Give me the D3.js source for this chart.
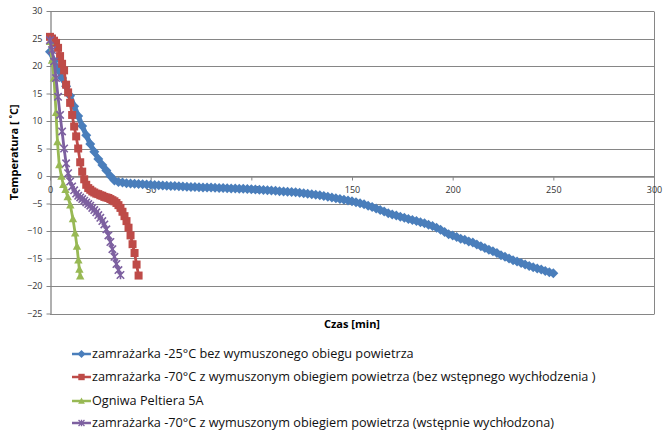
<!DOCTYPE html>
<html>
<head>
<meta charset="utf-8">
<script src="https://cdn.jsdelivr.net/npm/d3@7"></script>
<style>
    body { margin: 0; background: #fff; }
    svg { font-family: "Open Sans", sans-serif; }
</style>
</head>
<body>
<svg id="plot-svg" width="668" height="431"></svg>
<script>
const X_TICKS = [0, 50, 100, 150, 200, 250, 300];
const Y_TICKS = [-25, -20, -15, -10, -5, 0, 5, 10, 15, 20, 25, 30];

const SERIES_NAMES = [
    "zamrażarka -25°C bez wymuszonego obiegu powietrza",
    "zamrażarka -70°C z wymuszonym obiegiem powietrza (bez wstępnego wychłodzenia )",
    "Ogniwa Peltiera 5A",
    "zamrażarka -70°C z wymuszonym obiegiem powietrza (wstępnie wychłodzona)"
];

// freezer -25, read every 2 min
const blueTime = d3.range(0, 251, 2);
const blueTemp = [
    22.6, 20.9, 19.3, 17.8, 16.3, 14.6, 12.7, 10.9, 9.1, 7.4,
    5.8, 4.4, 3.1, 2.0, 1.0, 0.0, -0.8, -1.1, -1.2, -1.3,
    -1.35, -1.4, -1.45, -1.5, -1.55, -1.6, -1.65, -1.7, -1.72, -1.76,
    -1.8, -1.84, -1.88, -1.92, -1.96, -2.0, -2.02, -2.04, -2.07, -2.09,
    -2.1, -2.13, -2.16, -2.19, -2.22, -2.25, -2.28, -2.31, -2.34, -2.37,
    -2.4, -2.45, -2.5, -2.55, -2.6, -2.65, -2.7, -2.75, -2.8, -2.85,
    -2.9, -2.97, -3.05, -3.13, -3.21, -3.3, -3.41, -3.52, -3.64, -3.76,
    -3.9, -4.03, -4.17, -4.31, -4.46, -4.6, -4.78, -4.95, -5.15, -5.4,
    -5.65, -5.9, -6.2, -6.45, -6.75, -7.0, -7.2, -7.4, -7.6, -7.8,
    -8.0, -8.2, -8.4, -8.6, -8.85, -9.1, -9.4, -9.75, -10.2, -10.6,
    -10.8, -11.1, -11.4, -11.6, -11.9, -12.1, -12.45, -12.75, -13.1, -13.4,
    -13.7, -14.0, -14.4, -14.7, -15.0, -15.3, -15.55, -15.8, -16.1, -16.35,
    -16.6, -16.8, -17.0, -17.25, -17.5, -17.7
];

// freezer -70, not pre-cooled, every minute
const redTime = d3.range(0, 45, 1);
const redTemp = [
    25.3, 25.0, 24.6, 24.2, 23.3, 21.8, 20.4, 19.2, 16.6, 15.2,
    13.3, 11.1, 9.0, 7.2, 5.0, 2.5, 0.8, -0.6, -1.6, -2.2,
    -2.5, -2.8, -3.0, -3.2, -3.3, -3.5, -3.6, -3.8, -3.9, -4.0,
    -4.2, -4.4, -4.6, -4.9, -5.3, -5.8, -6.5, -7.3, -8.2, -9.4,
    -10.8, -12.4, -14.0, -16.1, -18.1
];

// Peltier cells
const greenTime = [0, 1, 2, 3, 3.7, 4.6, 5.7, 6.6, 7.7, 8.8, 10.1, 11.4, 12.5, 13.4, 14.1, 14.6, 15];
const greenTemp = [24.4, 21.0, 17.8, 11.5, 6.2, 2.0, -0.1, -1.6, -2.5, -3.8, -5.3, -7.8, -10.4, -12.8, -15.3, -17.0, -18.2];

// freezer -70, pre-cooled, every minute
const purpleTime = d3.range(0, 36, 1);
const purpleTemp = [
    24.7, 22.9, 20.8, 17.8, 14.4, 11.1, 8.1, 5.0, 2.3, 0.5,
    -1.0, -1.9, -2.6, -3.2, -3.6, -3.9, -4.2, -4.5, -4.8, -5.1,
    -5.4, -5.8, -6.2, -6.6, -7.1, -7.6, -8.2, -8.8, -9.7, -10.8,
    -12.0, -13.3, -14.7, -16.0, -17.1, -18.0
];

const COLORS = ["#4a7ebb", "#be4b48", "#98b954", "#7d60a0"];
const GRID = "#868686";

function zip(t, v) {
    return t.map((d, i) => ({x: d, y: v[i]}));
}

// marker shapes, centred on 0,0
const markers = [
    (g, c) => g.append("path").attr("d", "M0,-5L5,0L0,5L-5,0Z").style("fill", c),
    (g, c) => g.append("rect").attr("x", -4).attr("y", -4).attr("width", 8).attr("height", 8).style("fill", c),
    (g, c) => g.append("path").attr("d", "M0,-4.4L4.2,3.3L-4.2,3.3Z").style("fill", c),
    (g, c) => g.append("path").attr("d", "M-3.7,-3.7L3.7,3.7M-3.7,3.7L3.7,-3.7M0,-4.2L0,4.2").style("fill", "none")
        .style("stroke", c).style("stroke-width", 1.6)
];

const margin = {left: 50, top: 11},
    width = 604,
    height = 302.5;

const svg = d3.select("#plot-svg")
    .append("g")
    .attr("transform", "translate(" + margin.left + "," + margin.top + ")");

const xScale = d3.scaleLinear().domain([0, 300]).range([0, width]);
const yScale = d3.scaleLinear().domain([-25, 30]).range([height, 0]);

// horizontal gridlines
svg.append("g")
    .selectAll("line")
    .data(Y_TICKS)
    .enter()
    .append("line")
    .attr("x1", 0)
    .attr("x2", width)
    .attr("y1", d => Math.round(yScale(d)) + 0.5)
    .attr("y2", d => Math.round(yScale(d)) + 0.5)
    .style("stroke", GRID)
    .style("stroke-width", 1);

// right border of plot area
svg.append("line")
    .attr("x1", width + 0.5).attr("x2", width + 0.5)
    .attr("y1", Math.round(yScale(30)) + 0.5).attr("y2", Math.round(yScale(-25)) + 0.5)
    .style("stroke", GRID);

// y axis
const yAxis = d3.axisLeft(yScale)
    .tickValues(Y_TICKS)
    .tickSize(4)
    .tickSizeOuter(0)
    .tickPadding(4);
const yg = svg.append("g").attr("transform", "translate(0.5,0)").call(yAxis);

// x axis crosses at 0
const xAxis = d3.axisBottom(xScale)
    .tickValues(X_TICKS)
    .tickSize(4)
    .tickSizeOuter(0)
    .tickPadding(6);
const xg = svg.append("g")
    .attr("transform", "translate(0," + (Math.round(yScale(0)) + 0.5) + ")")
    .call(xAxis);

[yg, xg].forEach(g => {
    g.selectAll("path.domain").style("stroke", GRID).style("stroke-width", 1.3);
    g.selectAll(".tick line").style("stroke", GRID);
    g.selectAll(".tick text")
        .style("font-family", "'Open Sans', sans-serif")
        .style("font-size", "9px")
        .style("fill", "#333");
});

// series
const allSeries = [
    zip(blueTime, blueTemp),
    zip(redTime, redTemp),
    zip(greenTime, greenTemp),
    zip(purpleTime, purpleTemp)
];

const line = d3.line()
    .x(d => xScale(d.x))
    .y(d => yScale(d.y));

allSeries.forEach((data, k) => {
    const sg = svg.append("g").attr("class", "series-" + k);
    sg.append("path")
        .datum(data)
        .attr("d", line)
        .style("fill", "none")
        .style("stroke", COLORS[k])
        .style("stroke-width", k === 0 ? 5 : 2.8)
        .style("stroke-linejoin", "round");
    sg.selectAll("g.mk")
        .data(data)
        .enter()
        .append("g")
        .attr("class", "mk")
        .attr("transform", d => "translate(" + xScale(d.x) + "," + yScale(d.y) + ")")
        .each(function () {
            markers[k](d3.select(this), COLORS[k]);
        });
});

// axis titles
svg.append("text")
    .attr("text-anchor", "middle")
    .attr("transform", "translate(" + (-32) + "," + (height / 2 - 10) + ") rotate(-90)")
    .style("font-size", "11px")
    .style("font-weight", "bold")
    .text("Temperatura [ ˚C]");

svg.append("text")
    .attr("x", 302)
    .attr("y", 317)
    .attr("text-anchor", "middle")
    .style("font-size", "11px")
    .style("font-weight", "bold")
    .text("Czas [min]");

// legend
const root = d3.select("#plot-svg");
const LEGEND_Y = [354, 377, 401, 423];
SERIES_NAMES.forEach((name, k) => {
    const lg = root.append("g").attr("transform", "translate(0," + LEGEND_Y[k] + ")");
    lg.append("line")
        .attr("x1", 72).attr("x2", 91)
        .style("stroke", COLORS[k])
        .style("stroke-width", 2.5);
    const m = lg.append("g").attr("transform", "translate(81.5,0) scale(0.8)");
    markers[k](m, COLORS[k]);
    lg.append("text")
        .attr("x", 92)
        .attr("dy", "0.35em")
        .style("font-size", "12.7px")
        .style("fill", "#111")
        .text(name);
});
</script>
</body>
</html>
